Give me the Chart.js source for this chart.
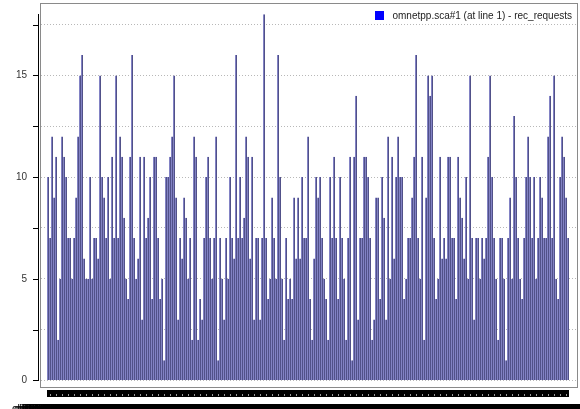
<!DOCTYPE html>
<html>
<head>
<meta charset="utf-8">
<title>rec_requests</title>
<script src="https://cdn.jsdelivr.net/npm/chart.js@4.4.1/dist/chart.umd.min.js"></script>
<style>
  html, body { margin: 0; padding: 0; background: #fff; overflow: hidden; }
  #wrap { width: 580px; height: 409px; overflow: hidden; }
  canvas { display: block; }
</style>
</head>
<body>
<div id="wrap"><canvas id="recChart" width="580" height="418"></canvas></div>
<script>
const seriesLabel = 'omnetpp.sca#1 (at line 1) - rec_requests';

// one scalar per module
const recRequests = [
    10, 7, 12, 9, 11, 2, 5, 12, 11, 10, 7, 7, 5, 7, 9, 12, 15, 16, 6, 5,
    5, 10, 5, 7, 7, 6, 15, 10, 9, 7, 10, 5, 11, 7, 15, 7, 12, 11, 8, 5,
    4, 11, 16, 7, 5, 6, 11, 3, 11, 7, 8, 10, 4, 11, 11, 7, 4, 5, 1, 10,
    10, 11, 12, 15, 9, 3, 7, 6, 9, 8, 5, 7, 2, 12, 11, 2, 4, 3, 7, 10,
    11, 7, 5, 7, 12, 1, 7, 5, 3, 7, 5, 10, 7, 6, 16, 7, 10, 7, 8, 12,
    11, 6, 11, 3, 7, 7, 3, 7, 18, 7, 4, 5, 9, 7, 5, 16, 10, 5, 2, 7,
    4, 5, 4, 9, 6, 9, 6, 10, 7, 7, 12, 4, 2, 6, 10, 9, 10, 7, 5, 4,
    2, 10, 7, 11, 7, 4, 10, 7, 5, 2, 7, 11, 1, 11, 14, 3, 7, 7, 11, 11,
    10, 7, 2, 3, 9, 9, 4, 10, 8, 3, 12, 5, 11, 6, 10, 12, 10, 10, 4, 5,
    7, 7, 9, 11, 16, 7, 5, 11, 2, 9, 15, 14, 15, 7, 4, 5, 11, 6, 7, 6,
    11, 11, 7, 7, 4, 11, 9, 8, 6, 10, 5, 15, 7, 3, 7, 7, 5, 7, 6, 7,
    11, 15, 10, 7, 5, 2, 7, 7, 5, 1, 7, 9, 5, 13, 10, 7, 5, 4, 7, 10,
    12, 10, 7, 10, 5, 7, 10, 9, 7, 7, 12, 14, 7, 15, 5, 4, 10, 12, 11, 9,
    7
];

const moduleNames = recRequests.map((v, i) => 'cli[' + i + '].tcpApp[0]');

const yTickValues = [0, 2.5, 5, 7.5, 10, 12.5, 15, 17.5];
const yLabelValues = [0, 5, 10, 15];


// frame, y axis line, x tick strip and legend, as the old scave chart has them
const scaveDecor = {
    id: 'scaveDecor',
    afterDraw(chart) {
        const ctx = chart.ctx;
        const area = chart.chartArea;
        const xScale = chart.scales.x;
        const yScale = chart.scales.y;

        ctx.save();

        ctx.strokeStyle = '#8a8a8a';
        ctx.lineWidth = 1;
        ctx.strokeRect(Math.round(area.left) - 0.5, Math.round(area.top) - 0.5,
            Math.round(area.width), Math.round(area.height));

        // y axis sits a little left of the frame
        const axisX = Math.round(area.left) - 2.5;
        const topValue = Math.max(...recRequests);
        ctx.strokeStyle = '#000';
        ctx.beginPath();
        ctx.moveTo(axisX, Math.round(yScale.getPixelForValue(0)) + 1);
        ctx.lineTo(axisX, Math.round(yScale.getPixelForValue(topValue)));
        yTickValues.forEach(v => {
            const py = Math.round(yScale.getPixelForValue(v)) + 0.5;
            ctx.moveTo(axisX - 5.5, py);
            ctx.lineTo(axisX + 0.5, py);
        });
        ctx.stroke();

        // one tick per module under the frame
        const stripTop = Math.round(area.bottom) + 2;
        ctx.fillStyle = '#000';
        recRequests.forEach((v, i) => {
            const px = xScale.getPixelForValue(i);
            ctx.fillRect(Math.round(px) - 1, stripTop, 2, 7);
        });
        ctx.fillStyle = '#9c9c9c';
        recRequests.forEach((v, i) => {
            if (i % 3 !== 1) return;
            const px = xScale.getPixelForValue(i);
            ctx.fillRect(Math.round(px), stripTop + 4, 1, 2);
        });

        // legend, top right inside the frame
        ctx.font = '10px "Liberation Sans", Arial, sans-serif';
        ctx.textBaseline = 'middle';
        ctx.textAlign = 'left';
        const textW = ctx.measureText(seriesLabel).width;
        const textX = area.right - 6 - textW;
        ctx.fillStyle = '#0000ff';
        ctx.fillRect(Math.round(textX) - 17, 11, 9, 9);
        ctx.fillStyle = '#222';
        ctx.fillText(seriesLabel, textX, 16);

        ctx.restore();
    }
};


function drawRecChart() {
    const ctx = document.getElementById('recChart').getContext('2d');

    window.recChartInstance = new Chart(ctx, {
        type: 'bar',
        data: {
            datasets: [{
                label: seriesLabel,
                data: recRequests.map((v, i) => ({ x: i, y: v })),
                backgroundColor: '#8282c4',
                borderColor: '#515189',
                borderWidth: { top: 0, left: 0, bottom: 0, right: 1 },
                barPercentage: 1,
                categoryPercentage: 1,
                inflateAmount: 0
            }]
        },
        options: {
            responsive: false,
            animation: false,
            events: [],
            devicePixelRatio: 1,
            layout: { padding: { top: 4, right: 2, bottom: 0, left: 0 } },
            plugins: {
                legend: { display: false },
                tooltip: { enabled: false }
            },
            scales: {
                x: {
                    type: 'linear',
                    offset: false,
                    min: -3.5,
                    max: recRequests.length + 4,
                    grid: { display: false, offset: false, drawTicks: true, tickLength: 13 },
                    border: { display: false },
                    // keep every bar exactly 2 px wide whatever width the axis gets
                    afterDataLimits: scale => {
                        scale.min = -3.5;
                        scale.max = scale.min + scale.width / 2;
                    },
                    afterBuildTicks: scale => {
                        scale.ticks = moduleNames.map((n, i) => ({ value: i }));
                    },
                    afterFit: scale => {
                        scale.height = 30;
                        scale.paddingLeft = 0;
                        scale.paddingRight = 0;
                    },
                    ticks: {
                        autoSkip: false,
                        maxRotation: 0,
                        minRotation: 0,
                        padding: 1,
                        color: '#000',
                        font: { family: '"Liberation Sans", Arial, sans-serif', size: 11 },
                        callback: value => moduleNames[value]
                    }
                },
                y: {
                    min: -0.37,
                    max: 18.51,
                    grid: { color: '#b8b8b8', lineWidth: 1, drawTicks: false },
                    border: { display: false, dash: [1, 2] },
                    afterBuildTicks: scale => {
                        scale.ticks = yTickValues.map(v => ({ value: v }));
                    },
                    afterFit: scale => {
                        scale.width = 41;
                        scale.paddingTop = 0;
                        scale.paddingBottom = 0;
                    },
                    ticks: {
                        padding: 14,
                        color: '#333',
                        font: { family: '"Liberation Sans", Arial, sans-serif', size: 10 },
                        callback: value => yLabelValues.includes(value) ? String(value) : ''
                    }
                }
            }
        },
        plugins: [scaveDecor]
    });
}

document.addEventListener('DOMContentLoaded', drawRecChart);
</script>
</body>
</html>
